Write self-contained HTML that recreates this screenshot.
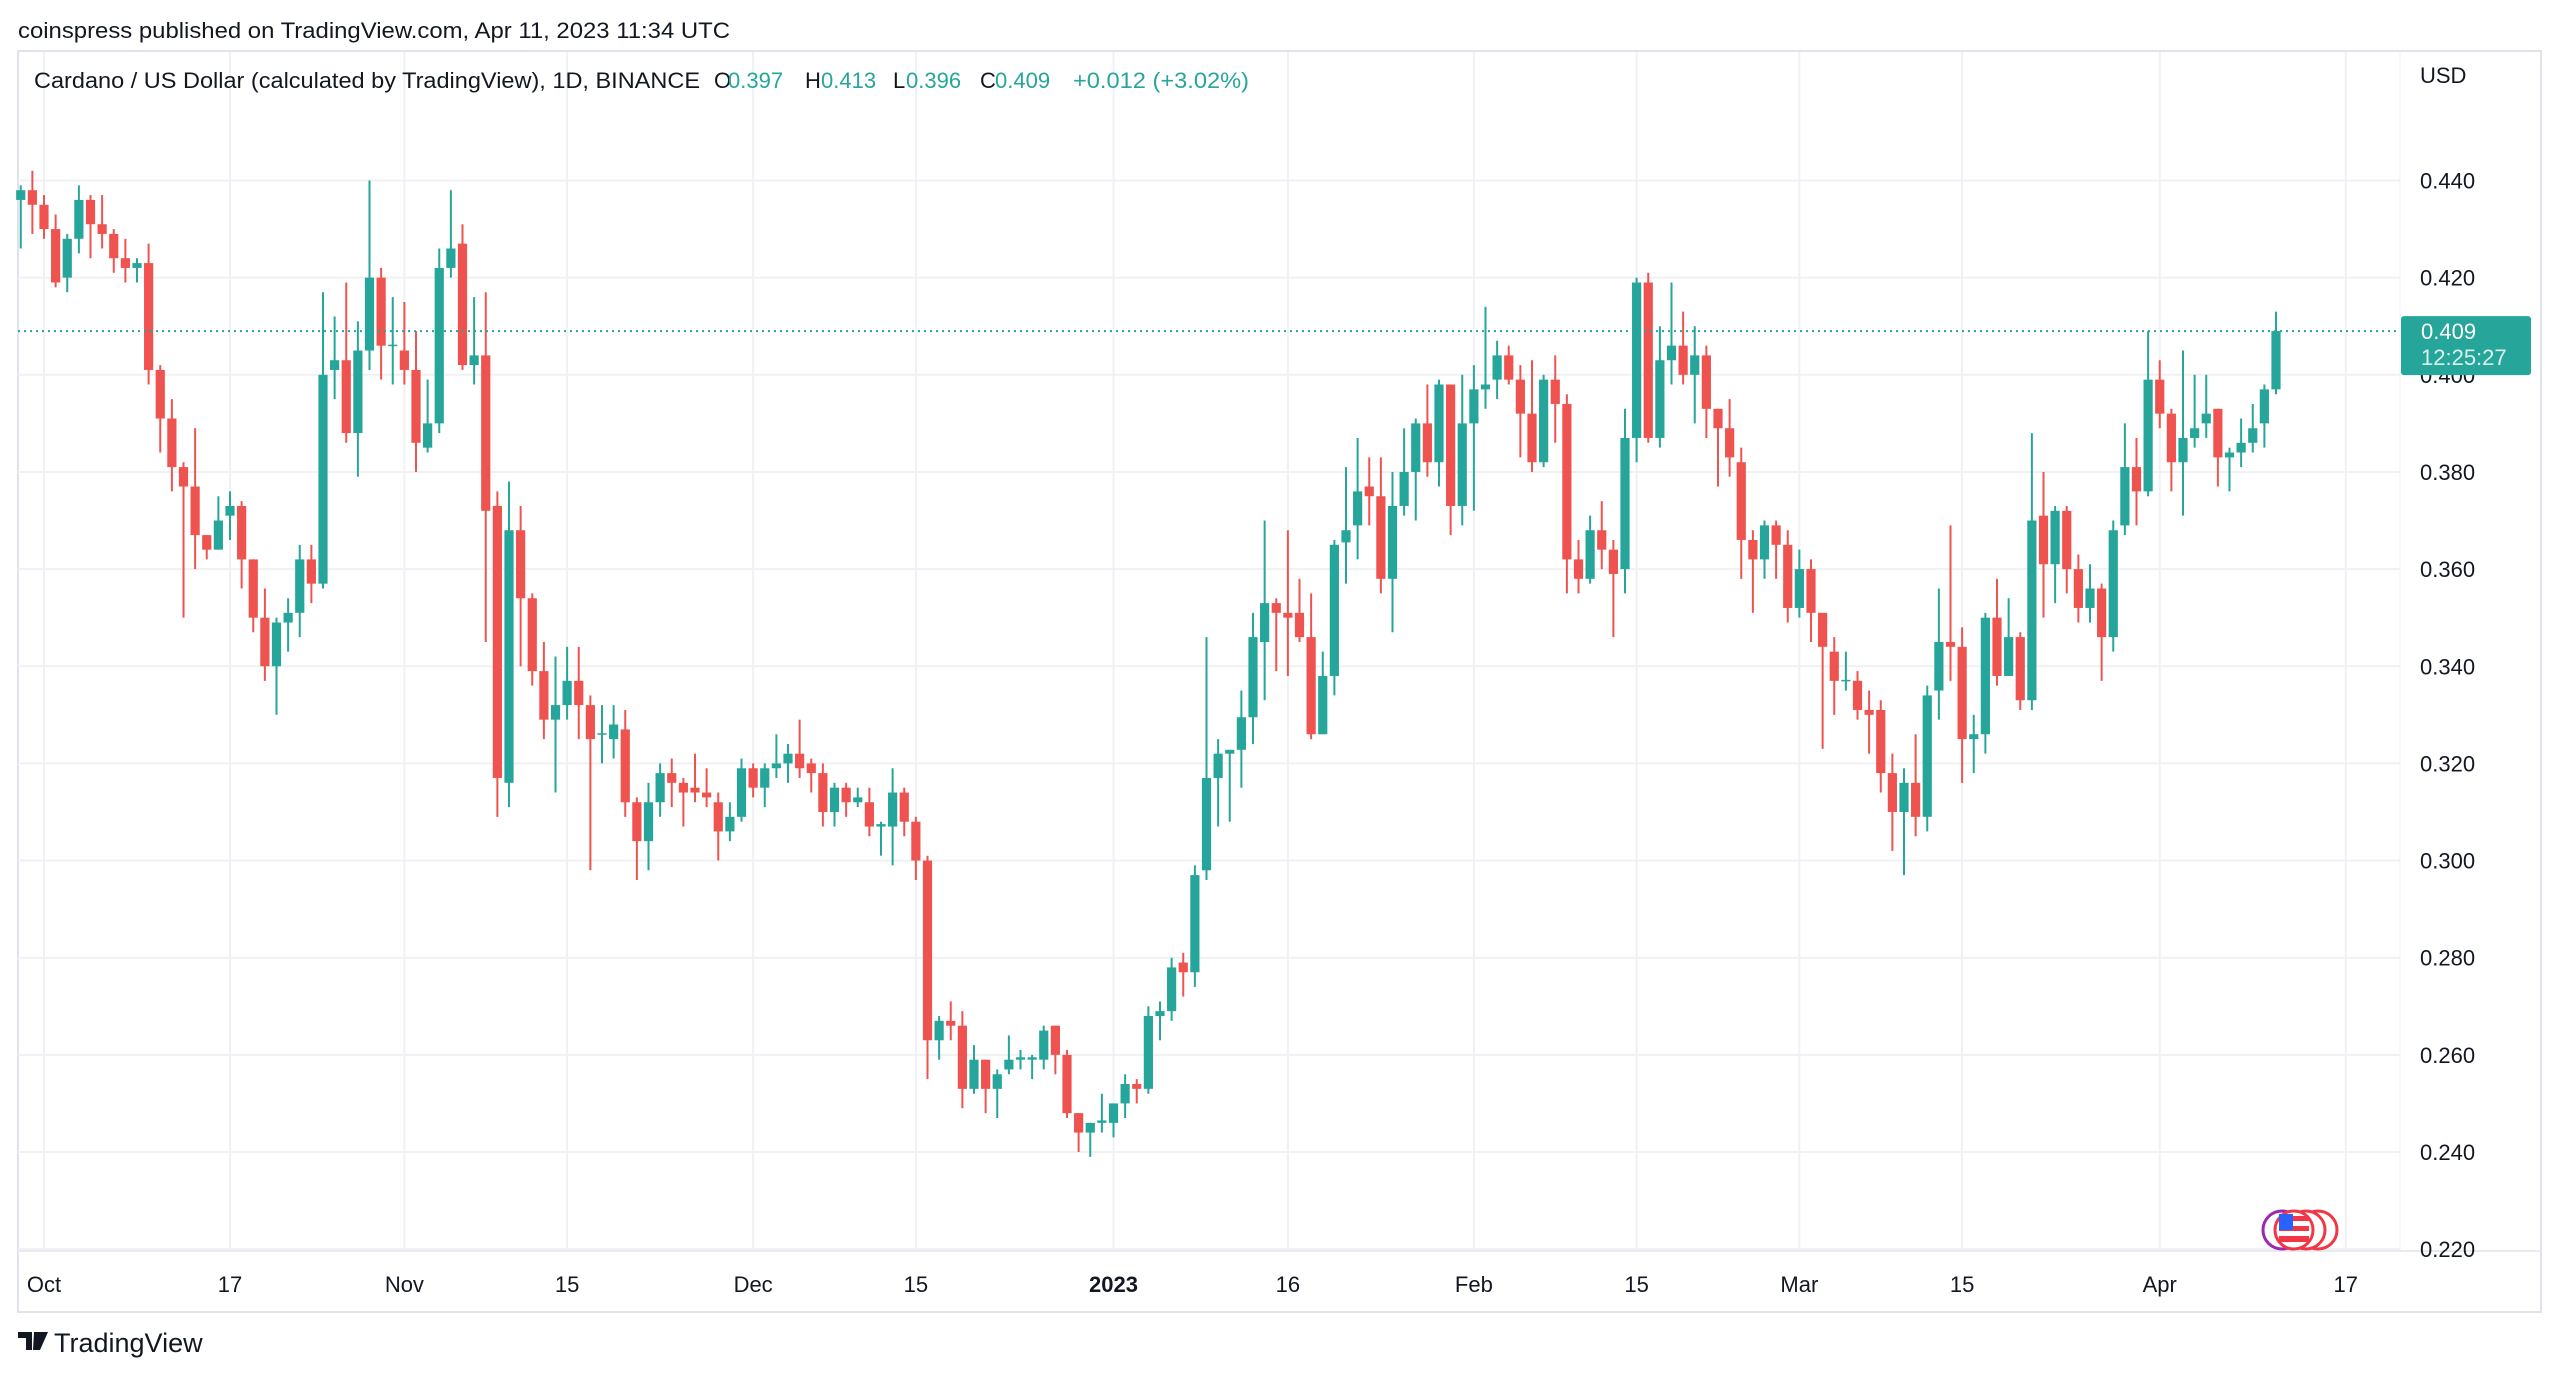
<!DOCTYPE html>
<html><head><meta charset="utf-8"><style>
html,body{margin:0;padding:0;background:#fff;}
svg{display:block;font-family:"Liberation Sans",Arial,sans-serif;}
</style></head><body>
<svg id="chart" width="2560" height="1375" viewBox="0 0 2560 1375" xmlns="http://www.w3.org/2000/svg">
<rect x="0" y="0" width="2560" height="1375" fill="#ffffff"/>
<text x="18" y="38" font-size="22" fill="#131722" textLength="712" lengthAdjust="spacingAndGlyphs">coinspress published on TradingView.com, Apr 11, 2023 11:34 UTC</text>
<rect x="18" y="51" width="2523" height="1261" fill="none" stroke="#e0e3eb" stroke-width="2"/>
<g id="grid"></g>
<g id="candles"></g>
<line x1="2400" y1="51" x2="2400" y2="1251" stroke="#f0f1f4" stroke-width="1"/>
<line x1="18" y1="1251" x2="2541" y2="1251" stroke="#e8eaef" stroke-width="2"/>
<g id="yaxis"></g>
<g id="xaxis"></g>
<text x="2420" y="83" font-size="22" fill="#131722">USD</text>
<g font-size="22">
<text x="34" y="88" fill="#131722" textLength="666" lengthAdjust="spacingAndGlyphs">Cardano / US Dollar (calculated by TradingView), 1D, BINANCE</text>
<text x="714" y="88" fill="#131722">O</text>
<text x="728" y="88" fill="#26a69a">0.397</text>
<text x="805" y="88" fill="#131722">H</text>
<text x="821" y="88" fill="#26a69a">0.413</text>
<text x="893" y="88" fill="#131722">L</text>
<text x="906" y="88" fill="#26a69a">0.396</text>
<text x="980" y="88" fill="#131722">C</text>
<text x="995" y="88" fill="#26a69a">0.409</text>
<text x="1073" y="88" fill="#26a69a" textLength="176" lengthAdjust="spacingAndGlyphs">+0.012 (+3.02%)</text>
</g>
<g>
<circle cx="2282" cy="1230" r="19" fill="#fff" stroke="#9c27b0" stroke-width="3"/>
<circle cx="2318" cy="1230" r="19" fill="#fff" stroke="#f23645" stroke-width="3"/>
<circle cx="2306" cy="1230" r="19" fill="#fff" stroke="#f23645" stroke-width="3"/>
<circle cx="2294" cy="1230" r="19" fill="#fff" stroke="#f23645" stroke-width="3"/>
<rect x="2279" y="1216" width="30" height="5" fill="#f23645"/>
<rect x="2279" y="1226" width="30" height="5" fill="#f23645"/>
<rect x="2279" y="1236" width="30" height="6" fill="#f23645"/>
<rect x="2279" y="1214" width="14" height="16" fill="#2962ff"/>
</g>
<g>
<path d="M18 1332 h14 v18 h-6 v-12 h-8 z M34 1332 h14 l-8 18 h-7 z" fill="#131722"/>
<circle cx="37" cy="1335" r="3" fill="#131722"/>
<text x="54" y="1352" font-size="27" fill="#131722">TradingView</text>
</g>
</svg>
<script>
// Daily candles starting Sep 29 2022 (day index -2 relative to Oct 1)
const startDay = -2;
const opens = [.436,.438,.435,.430,.420,.428,.436,.431,.429,.424,.422,.423,.401,.391,.381,.377,.367,.364,.371,.373,.362,.350,.340,.349,.351,.362,.357,.401,.403,.388,.405,.420,.406,.405,.401,.385,.390,.422,.427,.402,.404,.373,.316,.368,.354,.339,.329,.332,.337,.332,.326,.325,.327,.312,.304,.312,.318,.316,.315,.314,.312,.306,.309,.319,.315,.319,.320,.322,.320,.318,.310,.315,.312,.312,.307,.307,.314,.308,.300,.263,.267,.266,.253,.259,.253,.257,.259,.259,.259,.266,.260,.248,.244,.246,.246,.250,.254,.253,.268,.269,.279,.277,.298,.317,.322,.3228,.3295,.345,.353,.351,.351,.346,.326,.338,.3655,.369,.377,.375,.358,.373,.380,.390,.382,.398,.373,.390,.397,.399,.404,.399,.392,.382,.399,.394,.362,.358,.368,.364,.360,.387,.419,.387,.403,.406,.400,.404,.393,.389,.382,.366,.362,.369,.365,.352,.360,.351,.343,.337,.337,.331,.331,.318,.310,.316,.309,.335,.345,.344,.325,.326,.350,.338,.346,.333,.371,.361,.372,.360,.352,.356,.346,.369,.381,.376,.399,.392,.382,.387,.390,.393,.383,.384,.386,.390,.397];
const highs = [.439,.442,.437,.433,.429,.439,.437,.437,.430,.428,.424,.427,.402,.395,.382,.389,.367,.375,.376,.374,.362,.356,.350,.354,.365,.365,.417,.412,.419,.411,.440,.422,.416,.415,.409,.399,.426,.438,.431,.416,.417,.376,.378,.373,.355,.345,.342,.344,.344,.334,.332,.332,.331,.313,.316,.320,.321,.317,.322,.319,.314,.312,.321,.320,.320,.326,.324,.329,.321,.320,.316,.316,.315,.315,.308,.319,.315,.309,.301,.268,.271,.269,.262,.259,.257,.264,.261,.260,.266,.266,.261,.248,.246,.252,.250,.256,.255,.270,.271,.280,.281,.299,.346,.325,.3225,.335,.351,.370,.354,.368,.358,.355,.343,.366,.381,.387,.383,.383,.380,.389,.391,.398,.399,.398,.400,.402,.414,.407,.406,.402,.403,.400,.404,.396,.366,.371,.374,.366,.393,.420,.421,.410,.419,.413,.410,.406,.393,.395,.385,.368,.370,.370,.368,.364,.362,.351,.346,.343,.339,.335,.333,.322,.319,.326,.336,.356,.369,.348,.330,.351,.358,.354,.347,.388,.380,.373,.373,.363,.361,.357,.370,.390,.387,.409,.403,.393,.405,.400,.400,.393,.385,.391,.394,.398,.413];
const lows = [.426,.429,.428,.418,.417,.425,.424,.426,.421,.419,.419,.398,.384,.376,.350,.360,.362,.364,.366,.356,.347,.337,.330,.343,.346,.353,.356,.395,.386,.379,.401,.399,.398,.398,.380,.384,.388,.420,.401,.398,.345,.309,.311,.340,.336,.325,.314,.329,.325,.298,.320,.321,.309,.296,.298,.309,.311,.307,.312,.311,.300,.304,.308,.313,.311,.317,.316,.317,.314,.307,.307,.309,.311,.305,.301,.299,.305,.296,.255,.259,.263,.249,.252,.248,.247,.256,.257,.255,.257,.256,.247,.240,.239,.244,.243,.247,.250,.252,.263,.267,.272,.274,.296,.307,.308,.315,.324,.333,.339,.338,.345,.325,.326,.334,.357,.362,.369,.355,.347,.371,.370,.379,.377,.367,.369,.372,.393,.395,.398,.383,.380,.381,.386,.355,.355,.357,.360,.346,.355,.382,.386,.385,.398,.398,.390,.387,.377,.379,.358,.351,.358,.358,.349,.350,.345,.323,.330,.335,.329,.322,.314,.302,.297,.305,.306,.329,.337,.316,.318,.322,.336,.338,.331,.331,.350,.353,.355,.349,.349,.337,.343,.367,.369,.375,.389,.376,.371,.385,.387,.377,.376,.381,.384,.385,.396];
const closes = [.438,.435,.430,.419,.428,.436,.431,.429,.424,.422,.423,.401,.391,.381,.377,.367,.364,.370,.373,.362,.350,.340,.349,.351,.362,.357,.400,.403,.388,.405,.420,.406,.4062,.401,.386,.390,.422,.426,.402,.404,.372,.317,.368,.354,.339,.329,.332,.337,.332,.325,.3262,.328,.312,.304,.312,.318,.316,.314,.314,.313,.306,.309,.319,.315,.319,.320,.322,.319,.318,.310,.315,.312,.313,.307,.3075,.314,.308,.300,.263,.267,.266,.253,.259,.253,.256,.259,.2595,.2595,.265,.260,.248,.244,.246,.2465,.250,.254,.253,.268,.269,.278,.277,.297,.317,.322,.3228,.3295,.346,.353,.351,.350,.346,.326,.338,.365,.368,.376,.375,.358,.373,.380,.390,.382,.398,.373,.390,.397,.398,.404,.399,.392,.382,.399,.394,.362,.358,.368,.364,.359,.387,.419,.387,.403,.406,.400,.404,.393,.389,.383,.366,.362,.369,.365,.352,.360,.351,.344,.337,.3372,.331,.330,.318,.310,.316,.309,.334,.345,.344,.325,.326,.350,.338,.346,.333,.370,.361,.372,.360,.352,.356,.346,.368,.381,.376,.399,.392,.382,.387,.389,.392,.383,.384,.386,.389,.397,.409];
const priceTicks = [0.44,0.42,0.40,0.38,0.36,0.34,0.32,0.30,0.28,0.26,0.24,0.22];
const timeTickDays = [0,16,31,45,61,75,92,107,123,137,151,165,182,198];
const timeTickLabels = ["Oct","17","Nov","15","Dec","15","2023","16","Feb","15","Mar","15","Apr","17"];
const lastPrice = 0.409;
const countdown = "12:25:27";

const NS = "http://www.w3.org/2000/svg";
function xOf(day){ return 44 + 11.625*day; }
function yOf(p){ return 180.5 + (0.44 - p)/0.02*97.15; }
function mk(tag, attrs, parent){ const e=document.createElementNS(NS,tag); for(const k in attrs) e.setAttribute(k, attrs[k]); parent.appendChild(e); return e; }

const grid = document.getElementById('grid');
const yaxis = document.getElementById('yaxis');
const xaxis = document.getElementById('xaxis');
const cg = document.getElementById('candles');

priceTicks.forEach(function(p){
  const y = yOf(p);
  const gl = mk('line',{x1:18,x2:2400,y1:y,y2:y,stroke:'#f0f1f4','stroke-width':2},grid);
  
  
  const t = mk('text',{x:2420,y:y+8,'font-size':22,fill:'#131722'},yaxis);
  t.textContent = p.toFixed(3);
  
  
});
timeTickDays.forEach(function(d,i){
  const x = xOf(d);
  const gl = mk('line',{x1:x,x2:x,y1:52,y2:1251,stroke:'#f0f1f4','stroke-width':2},grid);
  
  
  const t = mk('text',{x:x,y:1292,'font-size':22,fill:'#131722','text-anchor':'middle','font-weight':timeTickLabels[i]==='2023'?'bold':'normal'},xaxis);
  t.textContent = timeTickLabels[i];
  
  
});

for(let i=0;i<opens.length;i++){
  const d = startDay + i;
  const x = xOf(d);
  const o=opens[i], h=highs[i], l=lows[i], c=closes[i];
  const col = c>=o ? '#26a69a' : '#ef5350';
  const g = mk('g',{},cg);
  
  
  const w = mk('line',{x1:x,x2:x,y1:yOf(h),y2:yOf(l),stroke:col,'stroke-width':2},g);
  
  
  const top = yOf(Math.max(o,c)), bot = yOf(Math.min(o,c));
  const b = mk('rect',{x:x-4.6,y:top,width:9.2,height:Math.max(1.5,bot-top),fill:col},g);
  
  
}

const ly = yOf(lastPrice);
const pl = mk('line',{x1:18,x2:2400,y1:ly,y2:ly,stroke:'#26a69a','stroke-width':2,'stroke-dasharray':'2 4'},cg);


const box = mk('rect',{x:2401,y:ly-15,width:130,height:59,rx:3,fill:'#26a69a'},yaxis);


const bt = mk('text',{x:2421,y:ly+8,'font-size':22,fill:'#ffffff'},yaxis);
bt.textContent = lastPrice.toFixed(3);


const ct = mk('text',{x:2421,y:ly+34,'font-size':22,fill:'#d9f2ef'},yaxis);
ct.textContent = countdown;


</script>
</body></html>
